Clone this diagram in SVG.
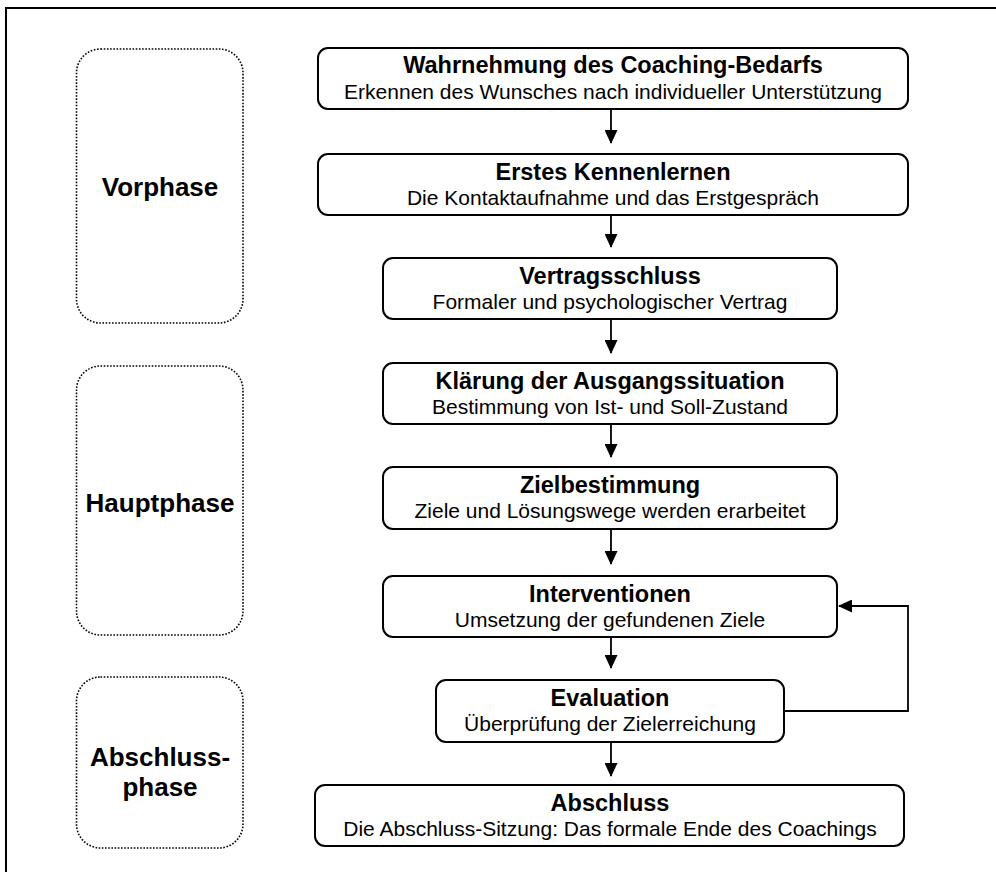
<svg xmlns="http://www.w3.org/2000/svg" width="996" height="872" viewBox="0 0 996 872">
<style>
.frame{fill:none;stroke:#000;stroke-width:2}
.phase{fill:none;stroke:#000;stroke-width:1.6;stroke-dasharray:1.6 1.6}
.ptext{font-family:"Liberation Sans",Arial,sans-serif;font-weight:bold;font-size:26px;fill:#000;text-anchor:middle}
.box{fill:#fff;stroke:#000;stroke-width:2}
.title{font-family:"Liberation Sans",Arial,sans-serif;font-weight:bold;font-size:23.5px;fill:#000;text-anchor:middle}
.sub{font-family:"Liberation Sans",Arial,sans-serif;font-size:21px;fill:#000;text-anchor:middle}
.conn{fill:none;stroke:#000;stroke-width:1.8}
</style>
<defs>
<marker id="ah" markerUnits="userSpaceOnUse" markerWidth="14" markerHeight="13" refX="13" refY="6.5" orient="auto">
<path d="M0,0 L14,6.5 L0,13 Z" fill="#000"/>
</marker>
</defs>
<rect x="0" y="0" width="996" height="872" fill="#fff"/>
<path class="frame" d="M6,872 V8 H996"/>

<g id="phase-vorphase">
<rect class="phase" x="76.5" y="49" width="166.5" height="274" rx="24" ry="24"/>
<text class="ptext" x="160" y="196">Vorphase</text>
</g>
<g id="phase-hauptphase">
<rect class="phase" x="76.5" y="366" width="166.5" height="269" rx="24" ry="24"/>
<text class="ptext" x="160" y="512">Hauptphase</text>
</g>
<g id="phase-abschlussphase">
<rect class="phase" x="76.5" y="677" width="166.5" height="171" rx="24" ry="24"/>
<text class="ptext" x="160" y="766">Abschluss-</text>
<text class="ptext" x="160" y="796">phase</text>
</g>

<g id="n1">
<rect class="box" x="318" y="48" width="590" height="61" rx="10" ry="10"/>
<text class="title" x="613" y="73">Wahrnehmung des Coaching-Bedarfs</text>
<text class="sub" x="613" y="99">Erkennen des Wunsches nach individueller Unterstützung</text>
</g>
<g id="n2">
<rect class="box" x="318" y="154" width="590" height="61" rx="10" ry="10"/>
<text class="title" x="613" y="180">Erstes Kennenlernen</text>
<text class="sub" x="613" y="205">Die Kontaktaufnahme und das Erstgespräch</text>
</g>
<g id="n3">
<rect class="box" x="383" y="258" width="454" height="61" rx="10" ry="10"/>
<text class="title" x="610" y="284">Vertragsschluss</text>
<text class="sub" x="610" y="309">Formaler und psychologischer Vertrag</text>
</g>
<g id="n4">
<rect class="box" x="383" y="363" width="454" height="61" rx="10" ry="10"/>
<text class="title" x="610" y="389">Klärung der Ausgangssituation</text>
<text class="sub" x="610" y="414">Bestimmung von Ist- und Soll-Zustand</text>
</g>
<g id="n5">
<rect class="box" x="383" y="467" width="454" height="62" rx="10" ry="10"/>
<text class="title" x="610" y="493">Zielbestimmung</text>
<text class="sub" x="610" y="518">Ziele und Lösungswege werden erarbeitet</text>
</g>
<g id="n6">
<rect class="box" x="383" y="576" width="454" height="61" rx="10" ry="10"/>
<text class="title" x="610" y="602">Interventionen</text>
<text class="sub" x="610" y="627">Umsetzung der gefundenen Ziele</text>
</g>
<g id="n7">
<rect class="box" x="436" y="680" width="348" height="62" rx="10" ry="10"/>
<text class="title" x="610" y="706">Evaluation</text>
<text class="sub" x="610" y="731">Überprüfung der Zielerreichung</text>
</g>
<g id="n8">
<rect class="box" x="315" y="785" width="589" height="61" rx="10" ry="10"/>
<text class="title" x="610" y="811">Abschluss</text>
<text class="sub" x="610" y="836">Die Abschluss-Sitzung: Das formale Ende des Coachings</text>
</g>

<g id="connectors">
<path class="conn" d="M611,109 V143" marker-end="url(#ah)"/>
<path class="conn" d="M611,215 V247" marker-end="url(#ah)"/>
<path class="conn" d="M611,319 V353" marker-end="url(#ah)"/>
<path class="conn" d="M611,424 V457" marker-end="url(#ah)"/>
<path class="conn" d="M611,529 V564" marker-end="url(#ah)"/>
<path class="conn" d="M611,637 V668" marker-end="url(#ah)"/>
<path class="conn" d="M611,742 V776" marker-end="url(#ah)"/>
<path class="conn" d="M784,711 H908 V606 H839" marker-end="url(#ah)"/>
</g>
</svg>
